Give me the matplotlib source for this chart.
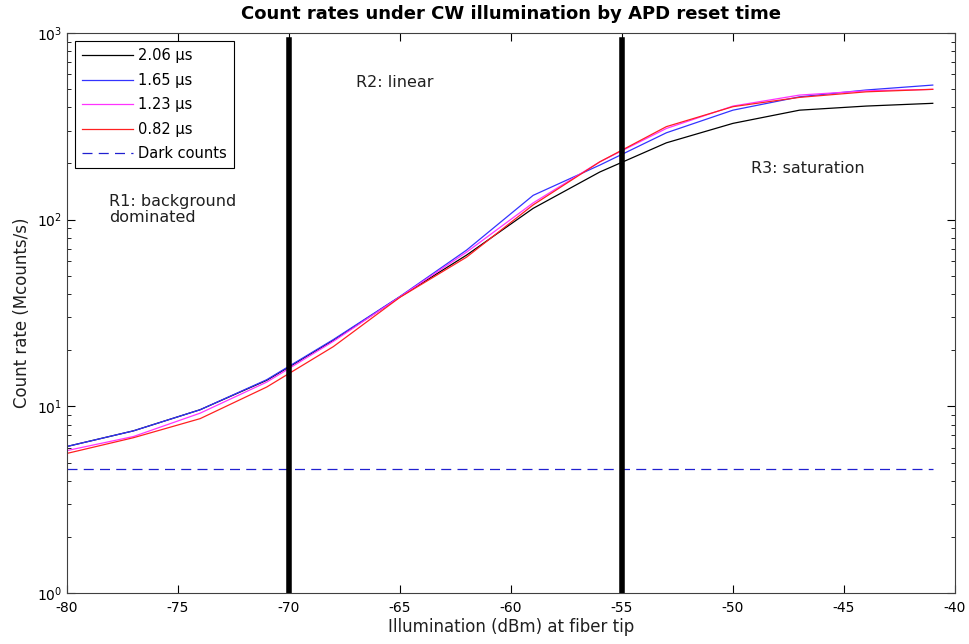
import matplotlib
matplotlib.use("Agg")
import matplotlib.pyplot as plt

# illumination levels (dBm at fiber tip)
power_dbm = [-80, -77, -74, -71, -68, -65, -62, -59, -56, -53, -50, -47, -44, -41]

# count rates (Mcounts/s) per APD reset time
rate_206 = [6.1, 7.4, 9.6, 13.8, 22.6, 38.6, 64.6, 115, 180, 258, 328, 386, 406, 420]
rate_165 = [6.1, 7.4, 9.6, 13.9, 22.8, 38.8, 68.7, 135, 196, 292, 386, 455, 495, 526]
rate_123 = [5.8, 6.9, 9.2, 13.5, 22.3, 38.6, 67.0, 123, 204, 308, 406, 465, 490, 499]
rate_082 = [5.6, 6.8, 8.6, 12.7, 20.9, 38.4, 63.0, 120, 204, 315, 403, 452, 484, 499]
dark_counts = 4.6

region_edges = [-70, -55]

plt.rcParams['font.family'] = ['DejaVu Sans']
plt.rcParams['axes.unicode_minus'] = False

fig = plt.figure(figsize=(9.7, 6.44), dpi=100)
ax = fig.add_axes([0.069, 0.079, 0.9155, 0.8698])

ax.plot(power_dbm, rate_206, color='black', lw=0.9, label='2.06 \u03bcs')
ax.plot(power_dbm, rate_165, color='#3333ff', lw=0.9, label='1.65 \u03bcs')
ax.plot(power_dbm, rate_123, color='#ff33ff', lw=0.9, label='1.23 \u03bcs')
ax.plot(power_dbm, rate_082, color='#ff2020', lw=0.9, label='0.82 \u03bcs')
ax.plot([-80, -41], [dark_counts, dark_counts], color='#2020d0', lw=0.9,
        ls=(0, (8, 5)), label='Dark counts')

for xe in region_edges:
    ax.plot([xe, xe], [1, 920], color='black', lw=4)

ax.text(-78.1, 113, 'R1: background\ndominated', fontsize=11.5, va='center',
        color='#202020', linespacing=1.1)
ax.text(-67.0, 540, 'R2: linear', fontsize=11.5, va='center', color='#202020')
ax.text(-49.2, 189, 'R3: saturation', fontsize=11.5, va='center', color='#202020')

ax.set_yscale('log')
ax.set_xlim(-80, -40)
ax.set_ylim(1, 1000)
ax.set_xticks(range(-80, -39, 5))
ax.tick_params(which='both', direction='in', top=True, right=True, labelsize=10)
ax.tick_params(axis='x', pad=6)
ax.tick_params(which='major', length=6)
ax.tick_params(which='minor', length=3)
for s in ax.spines.values():
    s.set_color('#404040')

ax.set_title('Count rates under CW illumination by APD reset time',
             fontsize=13, fontweight='bold', pad=10)
ax.set_xlabel('Illumination (dBm) at fiber tip', fontsize=12, labelpad=2,
              color='#202020')
ax.set_ylabel('Count rate (Mcounts/s)', fontsize=12, labelpad=4, color='#202020')

leg = ax.legend(loc='upper left', fontsize=10.5, fancybox=False, framealpha=1,
                edgecolor='black', handlelength=3.5, borderaxespad=0.55,
                labelspacing=0.65, handletextpad=0.3, borderpad=0.5)
leg.get_frame().set_linewidth(0.8)

fig.savefig('out.png', dpi=100)
